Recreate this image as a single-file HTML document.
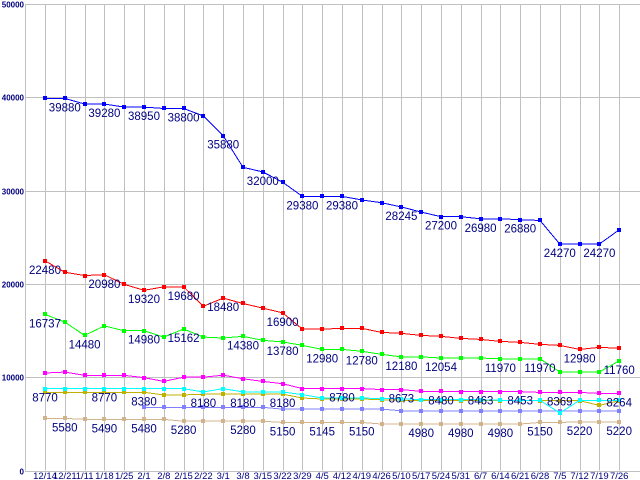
<!DOCTYPE html>
<html><head><meta charset="utf-8"><style>
html,body{margin:0;padding:0;background:#fff;}
svg{display:block;}
text{font-family:"Liberation Sans",sans-serif;}
</style></head><body>
<svg id="chart" width="640" height="480" viewBox="0 0 640 480" xmlns="http://www.w3.org/2000/svg">
<g id="grid" shape-rendering="crispEdges"></g>
<g id="axes"></g>
<g id="series"></g>
<g id="labels"></g>
</svg>
<script>
const categories = ["12/14","12/21","1/11","1/18","1/25","2/1","2/8","2/15","2/22","3/1","3/8","3/15","3/22","3/29","4/5","4/12","4/19","4/26","5/10","5/17","5/24","5/31","6/7","6/14","6/21","6/28","7/5","7/12","7/19","7/26"];
const yTicks = [0,10000,20000,30000,40000,50000];
const blueValues = [39880,39880,39280,39280,38950,38950,38800,38800,38000,35880,32500,32000,30900,29380,29380,29380,29000,28700,28245,27700,27200,27200,26980,26980,26880,26800,24270,24270,24270,25800];
const redValues = [22480,21250,20900,20980,19950,19320,19680,19680,17600,18480,17900,17400,16900,15150,15150,15240,15240,14800,14700,14480,14380,14160,14050,13840,13730,13520,13410,12980,13200,13100];
const greenValues = [16737,15900,14480,15500,14980,14980,14300,15162,14300,14200,14380,13950,13780,13410,12980,12980,12780,12450,12180,12180,12054,12054,12054,11970,11970,11970,10560,10560,10560,11760];
const magentaValues = [10450,10550,10200,10200,10200,9950,9550,10000,10000,10220,9830,9550,9300,8780,8780,8780,8780,8673,8673,8480,8480,8463,8463,8453,8453,8369,8369,8369,8264,8264];
const cyanValues = [8770,8770,8770,8770,8770,8770,8770,8770,8420,8770,8420,8420,8420,8130,7770,7770,7770,7700,7700,7590,7590,7590,7590,7520,7520,7520,6160,7520,7520,7520];
const oliveValues = [8380,8380,8380,8380,8380,8380,8100,8100,8180,8180,8180,8180,8180,7770,7660,7660,7660,7590,7520,7520,7480,7480,7480,7480,7480,7480,7480,7480,6980,7480];
const lavenderValues = [null,null,null,null,null,6770,6770,6770,6770,6770,6770,6770,6580,6580,6580,6580,6580,6580,6400,6400,6400,6400,6400,6400,6400,6400,6400,6400,6400,6400];
const tanValues = [5580,5580,5490,5490,5480,5480,5480,5280,5280,5280,5280,5280,5150,5150,5145,5150,5150,4980,4980,4980,4980,4980,4980,4980,4980,5150,5150,5220,5220,5220];
const blueLabelIdx = [1,3,5,7,9,11,13,15,18,20,22,24,26,28];
const blueLabelText = ["39880","39280","38950","38800","35880","32000","29380","29380","28245","27200","26980","26880","24270","24270"];
const redLabelIdx = [0,3,5,7,9,12,27];
const redLabelText = ["22480","20980","19320","19680","18480","16900","12980"];
const greenLabelIdx = [0,2,5,7,10,12,14,16,18,20,23,25,29];
const greenLabelText = ["16737","14480","14980","15162","14380","13780","12980","12780","12180","12054","11970","11970","11760"];
const magentaLabelIdx = [15,18,20,22,24,26,29];
const magentaLabelText = ["8780","8673","8480","8463","8453","8369","8264"];
const cyanLabelIdx = [0,3];
const cyanLabelText = ["8770","8770"];
const oliveLabelIdx = [5,8,10,12];
const oliveLabelText = ["8380","8180","8180","8180"];
const tanLabelIdx = [1,3,5,7,10,12,14,16,19,21,23,25,27,29];
const tanLabelText = ["5580","5490","5480","5280","5280","5150","5145","5150","4980","4980","4980","5150","5220","5220"];

const NS = "http://www.w3.org/2000/svg";
const X0 = 45, DX = 19.8, YB = 470.5, YT = 4, YMAX = 50000;
function xPos(i){ return X0 + i*DX; }
function yPos(v){ return YB - v/YMAX*(YB-YT); }
function mk(tag, attrs, parent){ const e=document.createElementNS(NS,tag); for(const k in attrs) e.setAttribute(k,attrs[k]); parent.appendChild(e); return e; }

const grid=document.getElementById('grid'), axes=document.getElementById('axes'), ser=document.getElementById('series'), lab=document.getElementById('labels');
yTicks.forEach(t=>{
  const y=Math.round(yPos(t))+0.5;
  const l=mk('line',{x1:25,x2:640,y1:y,y2:y,stroke:'#c0c0c0','stroke-width':1},grid);
  
  
  const tx=mk('text',{x:24,y:y+3,'text-anchor':'end','font-size':8,'font-weight':'bold',fill:'#000080'},axes);
  tx.textContent=t;
  
  
});
const ax=mk('line',{x1:25.5,x2:25.5,y1:YT,y2:YB,stroke:'#c0c0c0','stroke-width':1},grid);


categories.forEach((c,i)=>{
  const x=Math.round(xPos(i))+0.5;
  const l=mk('line',{x1:x,x2:x,y1:YT,y2:YB,stroke:'#c0c0c0','stroke-width':1},grid);
  
  
  const tx=mk('text',{x:xPos(i),y:479,'text-anchor':'middle','font-size':9.5,fill:'#000080'},axes);
  tx.textContent=c;
  
  
});
function drawSeries(name,vals,color,li,lt){
  const g=mk('g',{},ser);
  
  
  let d='';
  vals.forEach((v,i)=>{ if(v==null) return; d+=(d?'L':'M')+xPos(i)+' '+yPos(v)+' '; });
  const p=mk('path',{d:d,fill:'none',stroke:color,'stroke-width':1,'shape-rendering':'crispEdges'},g);
  
  
  vals.forEach((v,i)=>{ if(v==null) return;
    const r=mk('rect',{x:Math.round(xPos(i)-2),y:Math.round(yPos(v)-2),width:4,height:4,fill:color,'shape-rendering':'crispEdges'},g);
    
    
  });
  li.forEach((i,k)=>{
    const t=mk('text',{x:xPos(i),y:yPos(vals[i])+13,'text-anchor':'middle','font-size':11.5,fill:'#000080'},lab);
    t.textContent=lt[k];
    
    
  });
}
drawSeries('tan',tanValues,'#d2b48c',tanLabelIdx,tanLabelText);
drawSeries('lavender',lavenderValues,'#8080ff',[],[]);
drawSeries('olive',oliveValues,'#c0b000',oliveLabelIdx,oliveLabelText);
drawSeries('cyan',cyanValues,'#00ffff',cyanLabelIdx,cyanLabelText);
drawSeries('magenta',magentaValues,'#ff00ff',magentaLabelIdx,magentaLabelText);
drawSeries('green',greenValues,'#00ff00',greenLabelIdx,greenLabelText);
drawSeries('red',redValues,'#ff0000',redLabelIdx,redLabelText);
drawSeries('blue',blueValues,'#0000ff',blueLabelIdx,blueLabelText);
</script>
</body></html>
